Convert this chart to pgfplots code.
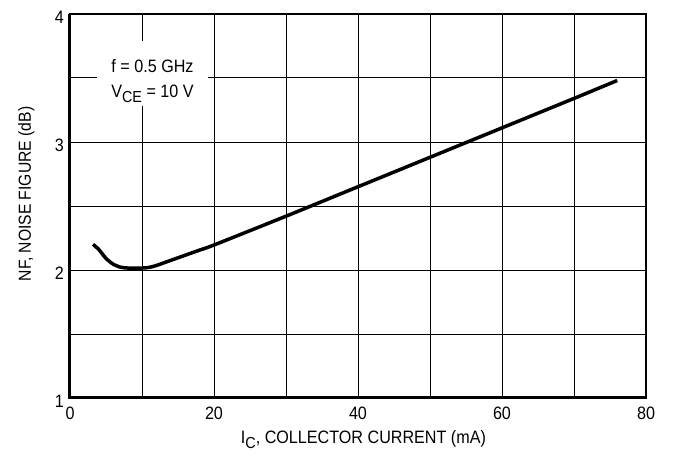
\documentclass[border=0pt]{standalone}
\usepackage{fontspec}
\setmainfont{Liberation Sans}[FakeStretch=0.9]
\usepackage{pgfplots}
\pgfplotsset{compat=1.18}
\begin{document}
\begin{tikzpicture}
\begin{axis}[
  width=576bp, height=384bp, scale only axis,
  xmin=0, xmax=80, ymin=1, ymax=4,
  xtick={0,20,40,60,80}, ytick={1,2,3,4},
  minor xtick={10,30,50,70}, minor ytick={1.5,2.5,3.5},
  grid=both, grid style={black, line width=0.9bp},
  minor grid style={black, line width=0.9bp},
  major tick length=0pt, minor tick length=0pt,
  axis line style={black, line width=1.5bp},
  tick label style={font=\fontsize{18}{20}\selectfont, inner sep=0pt},
  /pgf/number format/assume math mode=true,
  xticklabel style={anchor=north, yshift=-9bp},
  yticklabel style={anchor=east, xshift=-6bp, yshift=-3bp},
  xlabel={I\raisebox{-5bp}{\fontsize{16}{16}\selectfont C}, COLLECTOR CURRENT (mA)},
  ylabel={NF, NOISE FIGURE (dB)},
  xlabel style={at={(axis cs:40.76,0.6406)}, anchor=base, inner sep=0pt,
    font=\fontsize{18}{20}\selectfont},
  ylabel style={at={(axis cs:-5.417,2.594)}, anchor=base, inner sep=0pt,
    font=\fontsize{17.5}{20}\selectfont},
  clip=false,
]
\path (axis cs:-9.722,0.5078) rectangle (axis cs:83.75,4.109);
\addplot[black, line width=3.5bp, smooth, tension=0.4] coordinates {
 (3.2,2.20) (4,2.16) (5,2.09) (6,2.045) (7,2.022) (8,2.015) (10,2.015) (11,2.02)
 (12,2.035) (14,2.075) (16,2.115) (18,2.155) (20,2.195) (30,2.42) (40,2.65)
 (50,2.88) (60,3.11) (70,3.34) (76,3.48)
};
\draw[black, line width=3bp] (rel axis cs:0,1) -- (rel axis cs:0,0) -- (rel axis cs:1,0);
\fill[white] (axis cs:3.75,3.281) rectangle (axis cs:19.17,3.789);
\node[anchor=base, inner sep=0pt, font=\fontsize{18}{20}\selectfont]
  at (axis cs:11.46,3.539) {f = 0.5 GHz};
\node[anchor=base, inner sep=0pt, font=\fontsize{18}{20}\selectfont]
  at (axis cs:11.46,3.344) {V\raisebox{-5bp}{\fontsize{16}{16}\selectfont CE} = 10 V};
\end{axis}
\end{tikzpicture}
\end{document}
